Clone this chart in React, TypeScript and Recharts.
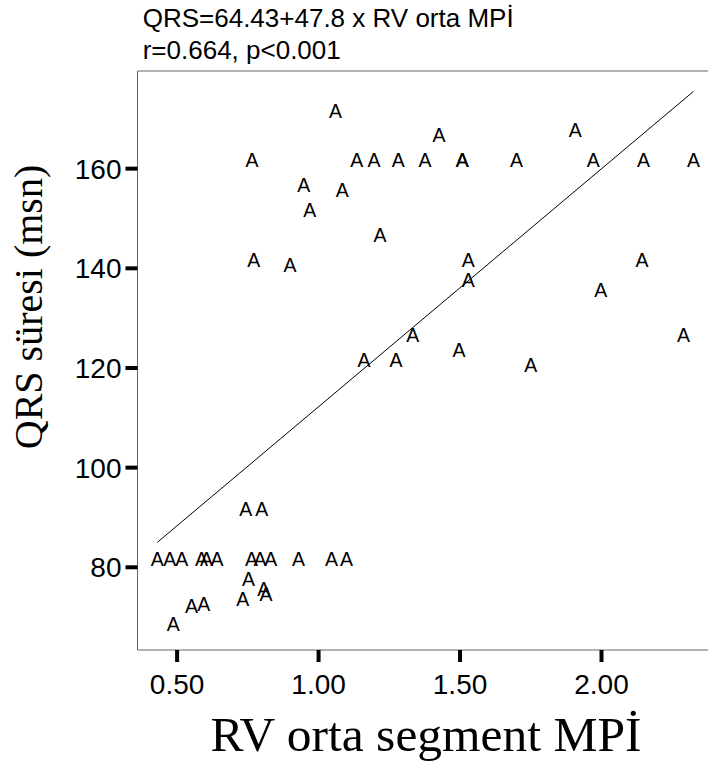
import React from "react";
import {ScatterChart, Scatter, XAxis, YAxis, ReferenceLine} from "recharts";

// RV orta segment MPİ (x) and QRS duration in msn (y)
const rvMpi = [
  1.06, 0.765, 1.135, 1.196, 1.282, 0.948, 1.084, 0.969, 1.217, 0.771, 0.899,
  1.426, 1.907, 1.376, 1.508, 1.508, 1.7, 1.971, 2.148, 2.325, 1.529, 1.529,
  2.143, 1.997, 1.333, 1.496, 1.75, 2.29, 1.161, 1.274, 0.743, 0.799, 0.43,
  0.474, 0.516, 0.586, 0.604, 0.641, 0.763, 0.793, 0.831, 0.929, 1.046, 1.099,
  0.752, 0.806, 0.814, 0.732, 0.551, 0.594, 0.486,
];
const qrsMs = [
  170, 160, 160, 160, 160, 155, 154, 150, 145, 140, 139, 165, 166, 160, 160,
  160, 160, 160, 160, 160, 140, 136, 140, 134, 125, 122, 119, 125, 120, 120,
  90, 90, 80, 80, 80, 80, 80, 80, 80, 80, 80, 80, 80, 80, 76, 74, 73, 72,
  70.5, 71, 67,
];

// fit line ends (QRS=64.43+47.8 x MPİ over the data range)
const fitX = [0.43, 2.325];
const fitY = [85.0, 175.5];

const xTicks = [0.5, 1, 1.5, 2];
const yTicks = [80, 100, 120, 140, 160];

const titleLines = ["QRS=64.43+47.8 x RV orta MPİ", "r=0.664, p<0.001"];
const xLabel = "RV orta segment MPİ";
const yLabel = "QRS süresi (msn)";

const points = rvMpi.map((x, i) => ({x, y: qrsMs[i]}));
const fitLine = fitX.map((x, i) => ({x, y: fitY[i]}));

const SANS = "'Liberation Sans', Arial, sans-serif";
const SERIF = "'Liberation Serif', 'Times New Roman', serif";

// SPSS-style letter marker
function LetterMarker({cx, cy}: {cx?: number; cy?: number}) {
  if (cx == null || cy == null) return <g />;
  return (
    <text
      x={cx}
      y={cy - 1.3}
      textAnchor="middle"
      fontFamily={SANS}
      fontSize={19.5}
      fill="#000"
    >
      A
    </text>
  );
}

export default function App() {
  const tick = {fontSize: 28, fill: "#000", fontFamily: SANS};
  return (
    <div
      style={{
        position: "absolute",
        left: 0,
        top: 0,
        width: 708,
        height: 767,
        overflow: "hidden",
        background: "#fff",
      }}
    >
      <ScatterChart
        width={726}
        height={767}
        margin={{top: 71, right: 0, bottom: 0, left: 0}}
      >
        <XAxis
          type="number"
          dataKey="x"
          domain={[0.36, 2.44]}
          ticks={xTicks}
          allowDataOverflow
          height={117}
          tickSize={12}
          tickMargin={12}
          tickFormatter={(v: number) => v.toFixed(2)}
          axisLine={{stroke: "#666"}}
          tickLine={{stroke: "#000", strokeWidth: 4}}
          tick={tick}
        />
        <YAxis
          type="number"
          dataKey="y"
          domain={[63.4, 179.6]}
          ticks={yTicks}
          allowDataOverflow
          width={137.5}
          tickSize={12}
          tickMargin={4}
          axisLine={{stroke: "#666"}}
          tickLine={{stroke: "#000", strokeWidth: 4}}
          tick={tick}
        />
        <ReferenceLine y={179.6} stroke="#666" />
        <Scatter
          data={fitLine}
          line={{stroke: "#000", strokeWidth: 1}}
          shape={() => <g />}
          isAnimationActive={false}
        />
        <Scatter
          data={points}
          shape={<LetterMarker />}
          isAnimationActive={false}
        />
      </ScatterChart>
      <svg
        width={708}
        height={767}
        style={{position: "absolute", left: 0, top: 0, pointerEvents: "none"}}
      >
        <text x={142.7} y={27} fontFamily={SANS} fontSize={26} fill="#000">
          {titleLines[0]}
        </text>
        <text x={142.7} y={59} fontFamily={SANS} fontSize={26} fill="#000">
          {titleLines[1]}
        </text>
        <text
          x={426}
          y={751}
          textAnchor="middle"
          fontFamily={SERIF}
          fontSize={49.5}
          fill="#000"
        >
          {xLabel}
        </text>
        <text
          x={42}
          y={307}
          transform="rotate(-90 42 307)"
          textAnchor="middle"
          fontFamily={SERIF}
          fontSize={40}
          fill="#000"
        >
          {yLabel}
        </text>
      </svg>
    </div>
  );
}
